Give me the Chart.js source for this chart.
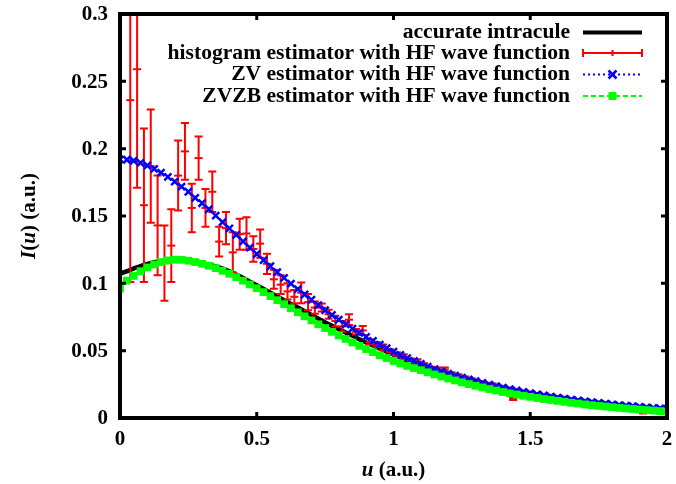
<!DOCTYPE html>
<html>
<head>
<meta charset="utf-8">
<script src="https://cdn.jsdelivr.net/npm/chart.js@4/dist/chart.umd.min.js"></script>
<style>
  html, body { margin: 0; padding: 0; background: #fff; }
  #wrap { width: 676px; height: 484px; }
</style>
</head>
<body>
<div id="wrap"><canvas id="intracule" width="676" height="484"></canvas></div>
<script>
// accurate intracule, sampled every 0.05
const uExact = [0, 0.05, 0.1, 0.15, 0.2, 0.25, 0.3, 0.35, 0.4, 0.45, 0.5, 0.55, 0.6, 0.65, 0.7, 0.75, 0.8, 0.85, 0.9, 0.95,
  1, 1.05, 1.1, 1.15, 1.2, 1.25, 1.3, 1.35, 1.4, 1.45, 1.5, 1.55, 1.6, 1.65, 1.7, 1.75, 1.8, 1.85, 1.9, 1.95, 2];
const exactI = [0.107, 0.111, 0.1145, 0.1165, 0.117, 0.1165, 0.115, 0.1125, 0.109, 0.104, 0.0985, 0.093, 0.0875, 0.082, 0.0765,
  0.071, 0.066, 0.061, 0.056, 0.0515, 0.047, 0.043, 0.0395, 0.036, 0.0328, 0.0298, 0.027, 0.0245, 0.0222, 0.0202,
  0.0183, 0.0166, 0.015, 0.0136, 0.0123, 0.0111, 0.01, 0.009, 0.0081, 0.0073, 0.0066];

// ZV / ZVZB estimators, every 0.025
const uGrid = [0, 0.025, 0.05, 0.075, 0.1, 0.125, 0.15, 0.175, 0.2, 0.225, 0.25, 0.275, 0.3, 0.325, 0.35, 0.375, 0.4, 0.425,
  0.45, 0.475, 0.5, 0.525, 0.55, 0.575, 0.6, 0.625, 0.65, 0.675, 0.7, 0.725, 0.75, 0.775, 0.8, 0.825, 0.85, 0.875, 0.9,
  0.925, 0.95, 0.975, 1, 1.025, 1.05, 1.075, 1.1, 1.125, 1.15, 1.175, 1.2, 1.225, 1.25, 1.275, 1.3, 1.325, 1.35, 1.375,
  1.4, 1.425, 1.45, 1.475, 1.5, 1.525, 1.55, 1.575, 1.6, 1.625, 1.65, 1.675, 1.7, 1.725, 1.75, 1.775, 1.8, 1.825, 1.85,
  1.875, 1.9, 1.925, 1.95, 1.975, 2];
const zvI = [0.192, 0.1918, 0.191, 0.1895, 0.1875, 0.185, 0.1822, 0.179, 0.1755, 0.1718, 0.168, 0.1635, 0.1595, 0.155,
  0.1503, 0.1455, 0.1408, 0.136, 0.1312, 0.1265, 0.1218, 0.1172, 0.1127, 0.1083, 0.104, 0.0998, 0.0957, 0.0917, 0.0878,
  0.0838, 0.08, 0.0765, 0.073, 0.0696, 0.0664, 0.0632, 0.0602, 0.0573, 0.0545, 0.0518, 0.0492, 0.0468, 0.0445, 0.0423,
  0.0402, 0.0382, 0.0363, 0.0345, 0.0329, 0.0314, 0.03, 0.0286, 0.0273, 0.026, 0.0248, 0.0236, 0.0225, 0.0214, 0.0204,
  0.0194, 0.0185, 0.0176, 0.0167, 0.0159, 0.0151, 0.0144, 0.0137, 0.013, 0.0124, 0.0118, 0.0112, 0.0106, 0.0101, 0.0096,
  0.0091, 0.0087, 0.0082, 0.0078, 0.0074, 0.0071, 0.0067];
const zvzbI = [0.096, 0.102, 0.1055, 0.109, 0.1118, 0.114, 0.1158, 0.117, 0.1176, 0.1175, 0.1168, 0.1158, 0.1146, 0.1131,
  0.1113, 0.1093, 0.1071, 0.1046, 0.102, 0.0992, 0.0964, 0.0935, 0.0905, 0.0875, 0.0845, 0.0815, 0.0785, 0.0755, 0.0725,
  0.0696, 0.0668, 0.064, 0.0613, 0.0587, 0.0561, 0.0536, 0.0512, 0.0489, 0.0466, 0.0445, 0.0424, 0.0405, 0.0387, 0.037,
  0.0355, 0.0339, 0.0323, 0.0308, 0.0293, 0.0279, 0.0265, 0.0252, 0.0239, 0.0227, 0.0215, 0.0204, 0.0193, 0.0183, 0.0174,
  0.0165, 0.0157, 0.0149, 0.0141, 0.0134, 0.0127, 0.012, 0.0113, 0.0107, 0.0101, 0.0095, 0.009, 0.0085, 0.008, 0.0075,
  0.0071, 0.0067, 0.0063, 0.0059, 0.0055, 0.0051, 0.0048];

// histogram estimator: bin centres, values, error bars
const uBins = [0.0125, 0.0375, 0.0625, 0.0875, 0.1125, 0.1375, 0.1625, 0.1875, 0.2125, 0.2375, 0.2625, 0.2875, 0.3125,
  0.3375, 0.3625, 0.3875, 0.4125, 0.4375, 0.4625, 0.4875, 0.5125, 0.5375, 0.5625, 0.5875, 0.6125, 0.6375, 0.6625, 0.6875,
  0.7125, 0.7375, 0.7625, 0.7875, 0.8125, 0.8375, 0.8625, 0.8875, 0.9125, 0.9375, 0.9625, 0.9875, 1.0125, 1.0375, 1.0625,
  1.0875, 1.1125, 1.1375, 1.1625, 1.1875, 1.2125, 1.2375, 1.2625, 1.2875, 1.3125, 1.3375, 1.3625, 1.3875, 1.4125, 1.4375,
  1.4625, 1.4875, 1.5125, 1.5375, 1.5625, 1.5875, 1.6125, 1.6375, 1.6625, 1.6875, 1.7125, 1.7375, 1.7625, 1.7875, 1.8125,
  1.8375, 1.8625, 1.8875, 1.9125, 1.9375, 1.9625, 1.9875];
const histI = [0, 0.236, 0.259, 0.158, 0.187, 0.143, 0.115, 0.128, 0.18, 0.198, 0.156, 0.193, 0.156, 0.168, 0.131, 0.141,
  0.123, 0.1365, 0.137, 0.1255, 0.1295, 0.1145, 0.103, 0.099, 0.094, 0.09, 0.093, 0.086, 0.082, 0.082, 0.077, 0.072, 0.068,
  0.073, 0.064, 0.065, 0.0565, 0.0545, 0.0525, 0.049, 0.047, 0.0455, 0.0425, 0.042, 0.039, 0.0365, 0.036, 0.036, 0.0325,
  0.031, 0.0295, 0.028, 0.0262, 0.025, 0.0245, 0.0228, 0.0215, 0.0145, 0.0195, 0.0185, 0.0175, 0.0168, 0.0163, 0.0153,
  0.0148, 0.014, 0.0133, 0.0126, 0.012, 0.0113, 0.0107, 0.0102, 0.0096, 0.0088, 0.0086, 0.0082, 0.004, 0.0075, 0.0072, 0.0068];
const histErr = [0, 0.135, 0.088, 0.057, 0.042, 0.037, 0.028, 0.027, 0.026, 0.021, 0.018, 0.016, 0.014, 0.015, 0.011, 0.012,
  0.015, 0.0115, 0.012, 0.0095, 0.0105, 0.0075, 0.007, 0.007, 0.006, 0.005, 0.0077, 0.006, 0.0045, 0.003, 0.0033, 0.004,
  0.004, 0.004, 0.002, 0.0033, 0.002, 0.002, 0.002, 0.002, 0.0018, 0.0018, 0.0017, 0.0017, 0.0016, 0.0015, 0.0015, 0.0015,
  0.0014, 0.0014, 0.0013, 0.0013, 0.0012, 0.0012, 0.0012, 0.0011, 0.0011, 0.0011, 0.001, 0.001, 0.001, 0.001, 0.001, 0.001,
  0.0009, 0.0009, 0.0009, 0.0009, 0.0008, 0.0008, 0.0008, 0.0008, 0.0008, 0.0007, 0.0007, 0.0007, 0.0007, 0.0007, 0.0007, 0.0007];

const xTicks = [0, 0.5, 1, 1.5, 2];
const xTickLabels = ['0', '0.5', '1', '1.5', '2'];
const yTicks = [0, 0.05, 0.1, 0.15, 0.2, 0.25, 0.3];
const yTickLabels = ['0', '0.05', '0.1', '0.15', '0.2', '0.25', '0.3'];

const legendLabels = ['accurate intracule', 'histogram estimator with HF wave function',
  'ZV estimator with HF wave function', 'ZVZB estimator with HF wave function'];

const FONT = '"Liberation Serif", "Times New Roman", serif';
const pts = (xs, ys) => xs.map((x, i) => ({ x: x, y: ys[i] }));

const errorBars = {
  id: 'errorBars',
  afterDatasetDraw(chart, args) {
    if (args.index !== 1) return;
    const { ctx, chartArea } = chart;
    const xs = chart.scales.x, ys = chart.scales.y;
    ctx.save();
    ctx.beginPath();
    ctx.rect(chartArea.left, chartArea.top, chartArea.right - chartArea.left, chartArea.bottom - chartArea.top);
    ctx.clip();
    ctx.strokeStyle = '#ff0000';
    ctx.lineWidth = 2;
    uBins.forEach((u, i) => {
      if (!histErr[i]) return;
      const px = xs.getPixelForValue(u);
      const top = ys.getPixelForValue(histI[i] + histErr[i]);
      const bot = ys.getPixelForValue(histI[i] - histErr[i]);
      ctx.beginPath();
      ctx.moveTo(px, top); ctx.lineTo(px, bot);
      ctx.moveTo(px - 4, top); ctx.lineTo(px + 4, top);
      ctx.moveTo(px - 4, bot); ctx.lineTo(px + 4, bot);
      ctx.stroke();
    });
    ctx.restore();
  }
};

const frameAndText = {
  id: 'frameAndText',
  afterDraw(chart) {
    const { ctx, chartArea: a } = chart;
    const xs = chart.scales.x, ys = chart.scales.y;
    ctx.save();
    // border
    ctx.strokeStyle = '#000';
    ctx.lineWidth = 4;
    ctx.strokeRect(a.left, a.top, a.right - a.left, a.bottom - a.top);
    // inward ticks on all four sides
    ctx.lineWidth = 3;
    ctx.beginPath();
    xTicks.slice(1, -1).forEach(v => {
      const px = xs.getPixelForValue(v);
      ctx.moveTo(px, a.bottom); ctx.lineTo(px, a.bottom - 6);
      ctx.moveTo(px, a.top); ctx.lineTo(px, a.top + 6);
    });
    yTicks.slice(1, -1).forEach(v => {
      const py = ys.getPixelForValue(v);
      ctx.moveTo(a.left, py); ctx.lineTo(a.left + 6, py);
      ctx.moveTo(a.right, py); ctx.lineTo(a.right - 6, py);
    });
    ctx.stroke();

    // tick labels
    ctx.fillStyle = '#000';
    ctx.font = 'bold 21px ' + FONT;
    ctx.textBaseline = 'middle';
    ctx.textAlign = 'center';
    xTicks.forEach((v, i) => ctx.fillText(xTickLabels[i], xs.getPixelForValue(v), 440));
    ctx.textAlign = 'right';
    yTicks.forEach((v, i) => ctx.fillText(yTickLabels[i], 108, ys.getPixelForValue(v) + 1));

    // axis titles with italic variables
    const runs = (parts) => {
      let w = 0;
      parts.forEach(p => { ctx.font = p[1] + ' 21px ' + FONT; w += ctx.measureText(p[0]).width; });
      return w;
    };
    const drawRuns = (parts, x0, y0) => {
      let x = x0;
      ctx.textAlign = 'left';
      parts.forEach(p => {
        ctx.font = p[1] + ' 21px ' + FONT;
        ctx.fillText(p[0], x, y0);
        x += ctx.measureText(p[0]).width;
      });
    };
    const xTitle = [['u', 'italic bold'], [' (a.u.)', 'bold']];
    const cx = (a.left + a.right) / 2;
    drawRuns(xTitle, cx - runs(xTitle) / 2, 471);
    const yTitle = [['I', 'italic bold'], ['(', 'bold'], ['u', 'italic bold'], [') (a.u.)', 'bold']];
    ctx.save();
    ctx.translate(30, (a.top + a.bottom) / 2);
    ctx.rotate(-Math.PI / 2);
    drawRuns(yTitle, -runs(yTitle) / 2, 0);
    ctx.restore();

    // key, text right aligned with samples on the right
    const textRight = 570, sx0 = 583, sx1 = 642, sxm = 612.5;
    const rowY = [32.5, 53, 74.5, 96];
    ctx.font = 'bold 21.6px ' + FONT;
    ctx.textAlign = 'right';
    legendLabels.forEach((t, i) => ctx.fillText(t, textRight, rowY[i]));
    // black
    ctx.strokeStyle = '#000'; ctx.lineWidth = 4;
    ctx.beginPath(); ctx.moveTo(sx0, rowY[0]); ctx.lineTo(sx1, rowY[0]); ctx.stroke();
    // red errorbar sample
    ctx.strokeStyle = '#ff0000'; ctx.lineWidth = 2;
    ctx.beginPath();
    ctx.moveTo(sx0, rowY[1]); ctx.lineTo(sx1, rowY[1]);
    ctx.moveTo(sx0, rowY[1] - 4); ctx.lineTo(sx0, rowY[1] + 4);
    ctx.moveTo(sx1, rowY[1] - 4); ctx.lineTo(sx1, rowY[1] + 4);
    ctx.moveTo(sxm, rowY[1] - 3); ctx.lineTo(sxm, rowY[1] + 3);
    ctx.stroke();
    // blue dotted with x
    ctx.strokeStyle = '#0000ff'; ctx.lineWidth = 2; ctx.setLineDash([2, 3]);
    ctx.beginPath(); ctx.moveTo(sx0, rowY[2]); ctx.lineTo(sx1, rowY[2]); ctx.stroke();
    ctx.setLineDash([]);
    ctx.lineWidth = 2.5;
    ctx.beginPath();
    ctx.moveTo(sxm - 4, rowY[2] - 4); ctx.lineTo(sxm + 4, rowY[2] + 4);
    ctx.moveTo(sxm - 4, rowY[2] + 4); ctx.lineTo(sxm + 4, rowY[2] - 4);
    ctx.stroke();
    // green dashed with square
    ctx.strokeStyle = '#00ff00'; ctx.fillStyle = '#00ff00'; ctx.lineWidth = 2; ctx.setLineDash([5, 3]);
    ctx.beginPath(); ctx.moveTo(sx0, rowY[3]); ctx.lineTo(sx1, rowY[3]); ctx.stroke();
    ctx.setLineDash([]);
    ctx.fillRect(sxm - 4, rowY[3] - 4, 8, 8);
    ctx.restore();
  }
};

new Chart(document.getElementById('intracule'), {
  type: 'line',
  data: {
    datasets: [
      {
        label: legendLabels[0], data: pts(uExact, exactI), borderColor: '#000', borderWidth: 4.5,
        pointRadius: 0, tension: 0.3, order: 4
      },
      {
        label: legendLabels[1], data: pts(uBins, histI), showLine: false, borderColor: '#ff0000',
        backgroundColor: '#ff0000', pointStyle: 'line', pointRadius: 4, pointBorderWidth: 2, order: 3
      },
      {
        label: legendLabels[2], data: pts(uGrid, zvI), borderColor: '#0000ff', borderWidth: 2, borderDash: [2, 3],
        pointStyle: 'crossRot', pointRadius: 5, pointBorderWidth: 2.5, pointBorderColor: '#0000ff', order: 2
      },
      {
        label: legendLabels[3], data: pts(uGrid, zvzbI), borderColor: '#00ff00', borderWidth: 2, borderDash: [5, 3],
        pointStyle: 'rect', pointRadius: 5.5, pointBorderWidth: 0, pointBackgroundColor: '#00ff00', order: 1
      }
    ]
  },
  options: {
    responsive: false,
    animation: false,
    devicePixelRatio: 1,
    layout: { padding: { left: 0, right: 9, top: 14, bottom: 0 } },
    plugins: { legend: { display: false }, tooltip: { enabled: false } },
    scales: {
      x: {
        type: 'linear', min: 0, max: 2,
        afterFit: s => { s.height = 66; },
        grid: { display: false, drawTicks: false }, border: { display: false },
        ticks: { display: false }
      },
      y: {
        type: 'linear', min: 0, max: 0.3,
        afterFit: s => { s.width = 120; },
        grid: { display: false, drawTicks: false }, border: { display: false },
        ticks: { display: false }
      }
    }
  },
  plugins: [errorBars, frameAndText]
});
</script>
</body>
</html>
